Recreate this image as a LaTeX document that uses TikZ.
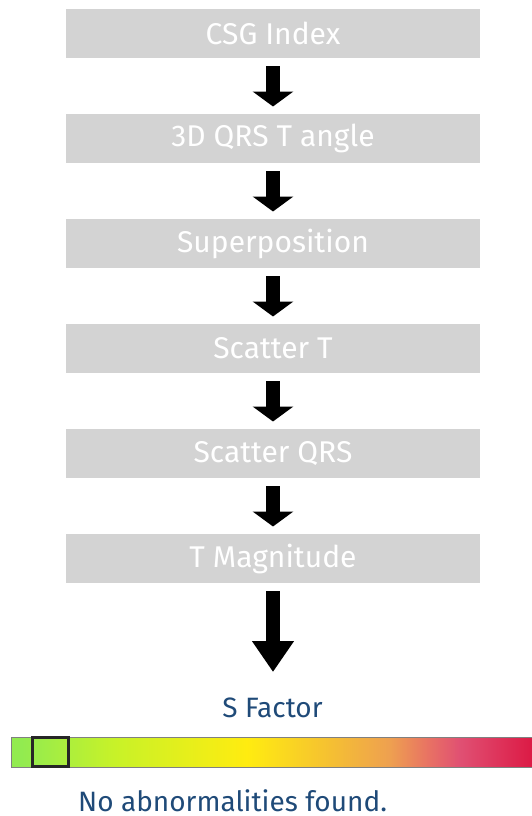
\documentclass[tikz,border=0pt]{standalone}
\usepackage{fontspec}
\setmainfont{Fira Sans}
\usetikzlibrary{arrows.meta}
\definecolor{boxgray}{RGB}{211,211,211}
\definecolor{txtblue}{RGB}{31,74,120}
\definecolor{barframe}{RGB}{128,128,128}
\definecolor{gA}{RGB}{146,235,80}
\definecolor{gB}{RGB}{200,242,40}
\definecolor{gC}{RGB}{255,236,16}
\definecolor{gD}{RGB}{245,192,50}
\definecolor{gE}{RGB}{238,160,80}
\definecolor{gF}{RGB}{232,112,100}
\definecolor{gG}{RGB}{224,80,115}
\definecolor{gH}{RGB}{220,26,69}
\pgfdeclarehorizontalshading{sfbar}{100bp}{
  color(0bp)=(gA); color(25bp)=(gA); color(26bp)=(gA);
  color(35bp)=(gB); color(47.65bp)=(gC); color(55.6bp)=(gD);
  color(61.35bp)=(gE); color(65.2bp)=(gF); color(68.1bp)=(gG);
  color(75bp)=(gH); color(100bp)=(gH)}
\tikzset{
  stepbox/.style={fill=boxgray, minimum width=414pt, minimum height=49pt,
    inner sep=0pt, text=white, font=\fontsize{30}{32}\selectfont},
  smallarrow/.style={line width=13.6pt, shorten <=8pt, shorten >=7.3pt,
    -{Triangle[width=40pt,length=15pt]}},
  bigarrow/.style={line width=13.6pt, shorten <=8pt,
    -{Triangle[width=40pt,length=31pt]}},
  bluetext/.style={text=txtblue, inner sep=0pt, font=\fontsize{28}{30}\selectfont}
}
\begin{document}
\begin{tikzpicture}[x=1pt,y=-1pt]
\useasboundingbox (0,0) rectangle (532,816);
\node[stepbox] (b1) at (273,33.5) {CSG Index};
\node[stepbox] (b2) at (273,138.5) {3D QRS T angle};
\node[stepbox] (b3) at (273,243.5) {Superposition};
\node[stepbox] (b4) at (273,348.5) {Scatter T};
\node[stepbox] (b5) at (273,453.5) {Scatter QRS};
\node[stepbox] (b6) at (273,558.5) {T Magnitude};
\draw[smallarrow] (b1.south) -- (b2.north);
\draw[smallarrow] (b2.south) -- (b3.north);
\draw[smallarrow] (b3.south) -- (b4.north);
\draw[smallarrow] (b4.south) -- (b5.north);
\draw[smallarrow] (b5.south) -- (b6.north);
\coordinate (tip) at (273,672);
\draw[bigarrow] (b6.south) -- (tip);
\node[bluetext, anchor=base] (sf) at (272.5,717) {S Factor};
\path[shading=sfbar, draw=barframe, line width=1pt] (11,737) rectangle (532,767);
\draw[draw=black!85, line width=3pt] (32,737.5) rectangle (68.5,766.5);
\node[bluetext, anchor=base west] (msg) at (78,811.5) {No abnormalities found.};
\end{tikzpicture}
\end{document}
